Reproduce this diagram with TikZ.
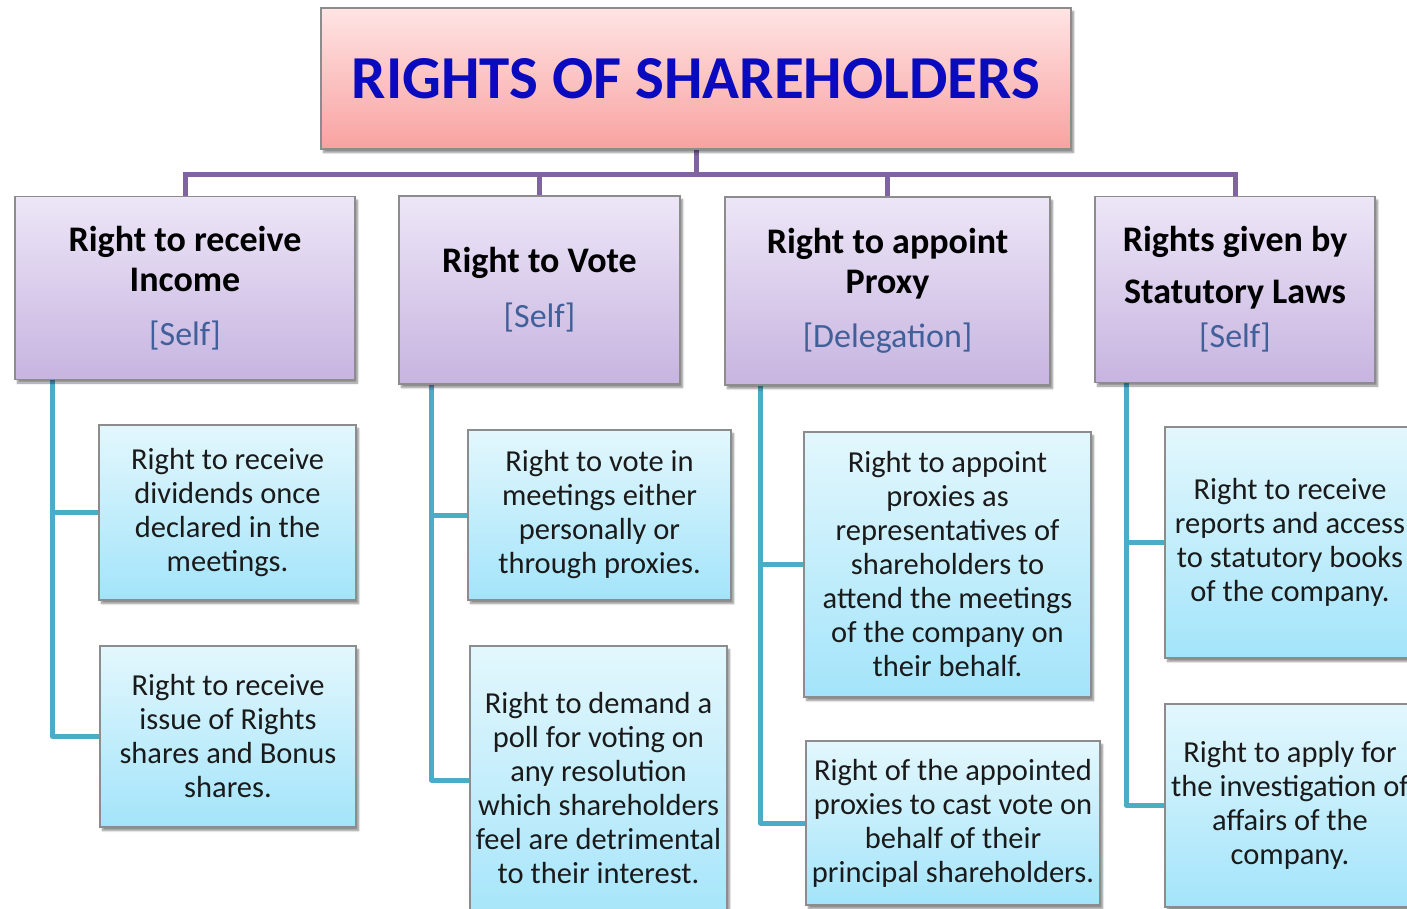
\documentclass[tikz,border=0pt]{standalone}
\usepackage{fontspec}
\setmainfont{Carlito}
\usetikzlibrary{shadows.blur,backgrounds}

\definecolor{titletop}{HTML}{FFE4E4}
\definecolor{titlebot}{HTML}{F8A2A0}
\definecolor{headtop}{HTML}{EDE6F7}
\definecolor{headbot}{HTML}{C7B4E0}
\definecolor{leaftop}{HTML}{E3F7FD}
\definecolor{leafbot}{HTML}{A3E4FA}
\definecolor{framegrey}{HTML}{8C8C8C}
\definecolor{trunk}{HTML}{8064A2}
\definecolor{branch}{HTML}{4BACC6}
\definecolor{titleblue}{HTML}{0A0ABF}
\definecolor{tagblue}{HTML}{41609A}
\definecolor{ink}{HTML}{1A1A1A}

\tikzset{
  box/.style={draw=framegrey, line width=1.2pt, inner sep=0pt, align=center,
    blur shadow={shadow xshift=2.5pt, shadow yshift=-3.5pt, shadow blur steps=6, shadow opacity=45}},
  titlebox/.style={box, top color=titletop, bottom color=titlebot,
    font=\fontsize{61}{70}\selectfont\bfseries, text=titleblue},
  headbox/.style={box, top color=headtop, bottom color=headbot,
    font=\fontsize{36}{40}\selectfont\bfseries, text=black},
  leafbox/.style={box, top color=leaftop, bottom color=leafbot,
    font=\fontsize{30.5}{34}\selectfont, text=ink},
  trunkline/.style={draw=trunk, line width=5pt},
  branchline/.style={draw=branch, line width=5pt, line join=round},
}
\newcommand{\tagline}[1]{{\mdseries\fontsize{34}{40}\selectfont\color{tagblue}[#1]}}

\begin{document}
\begin{tikzpicture}[x=1pt, y=-1pt]
\useasboundingbox (0,0) rectangle (1407,909);

% title
\node[titlebox, minimum width=750pt, minimum height=141pt] (root) at (696,78.5)
  {RIGHTS OF SHAREHOLDERS};

% four categories
\node[headbox, minimum width=340pt, minimum height=183pt] (h1) at (185,288)
  {Right to receive\\Income\\[14pt]\tagline{Self}};
\node[headbox, minimum width=281pt, minimum height=188pt] (h2) at (539.5,290)
  {Right to Vote\\[15pt]\tagline{Self}};
\node[headbox, minimum width=325pt, minimum height=188pt] (h3) at (887.5,291)
  {Right to appoint\\Proxy\\[14pt]\tagline{Delegation}};
\node[headbox, minimum width=280pt, minimum height=186pt] (h4) at (1235,289.5)
  {Rights given by\\[12pt]Statutory Laws\\[4pt]\tagline{Self}};

% individual rights
\node[leafbox, minimum width=257pt, minimum height=175pt] (c11) at (227.5,512.5)
  {Right to receive\\dividends once\\declared in the\\meetings.};
\node[leafbox, minimum width=256pt, minimum height=181pt] (c12) at (228,736.5)
  {Right to receive\\issue of Rights\\shares and Bonus\\shares.};
\node[leafbox, minimum width=263pt, minimum height=170pt] (c21) at (599.5,515)
  {Right to vote in\\meetings either\\personally or\\through proxies.};
\node[leafbox, minimum width=257pt, minimum height=284pt] (c22) at (598.5,788)
  {Right to demand a\\poll for voting on\\any resolution\\which shareholders\\feel are detrimental\\to their interest.};
\node[leafbox, minimum width=287pt, minimum height=265pt] (c31) at (947.5,564.5)
  {Right to appoint\\proxies as\\representatives of\\shareholders to\\attend the meetings\\of the company on\\their behalf.};
\node[leafbox, minimum width=294pt, minimum height=164pt] (c32) at (953,823)
  {Right of the appointed\\proxies to cast vote on\\behalf of their\\principal shareholders.};
\node[leafbox, minimum width=250pt, minimum height=231pt] (c41) at (1290,542.5)
  {Right to receive\\reports and access\\to statutory books\\of the company.};
\node[leafbox, minimum width=250pt, minimum height=203pt] (c42) at (1290,805.5)
  {Right to apply for\\the investigation of\\affairs of the\\company.};

% connectors, behind the boxes
\begin{pgfonlayer}{background}
  \foreach \h in {h1,h2,h3,h4}
    \draw[trunkline] (root.south) -- ++(0,25) -| (\h.north);
  \draw[branchline] ([xshift=38pt]h1.south west) |- (c11.west);
  \draw[branchline] ([xshift=38pt]h1.south west) |- (c12.west);
  \draw[branchline] ([xshift=33pt]h2.south west) |- (c21.west);
  \draw[branchline] ([xshift=33pt]h2.south west) |- ([yshift=8pt]c22.west);
  \draw[branchline] ([xshift=36pt]h3.south west) |- (c31.west);
  \draw[branchline] ([xshift=36pt]h3.south west) |- (c32.west);
  \draw[branchline] ([xshift=32pt]h4.south west) |- (c41.west);
  \draw[branchline] ([xshift=32pt]h4.south west) |- (c42.west);
\end{pgfonlayer}
\end{tikzpicture}
\end{document}
